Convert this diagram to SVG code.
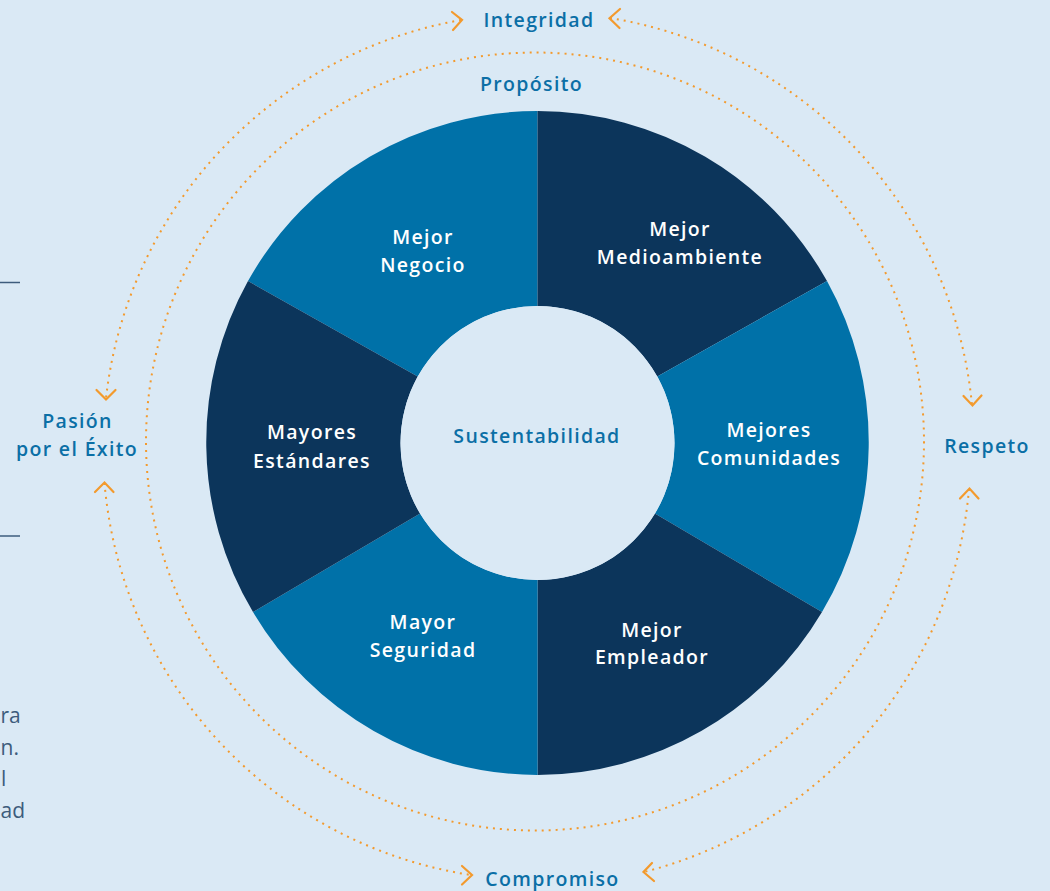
<svg xmlns="http://www.w3.org/2000/svg" width="1050" height="891" viewBox="0 0 1050 891">
  <style>
    .bg { fill: #dae9f5; }
    .mid { fill: #0071a8; }
    .dark { fill: #0c355b; }
    .wl { font-family: "Open Sans", "Liberation Sans", sans-serif; font-weight: 600; font-size: 19.5px; fill: #ffffff; text-anchor: middle; letter-spacing: 1.35px; }
    .ol { font-family: "Open Sans", "Liberation Sans", sans-serif; font-weight: 600; font-size: 19.5px; fill: #0b6fa6; text-anchor: middle; letter-spacing: 1.35px; }
    .frag { font-family: "Open Sans", "Liberation Sans", sans-serif; font-weight: 400; font-size: 21px; fill: #3d5c7c; text-anchor: start; }
    .dots { fill: none; stroke: #f39a2d; stroke-width: 2; stroke-dasharray: 2 5; }
    .chev { fill: none; stroke: #f39a2d; stroke-width: 2.2; stroke-linecap: round; stroke-linejoin: miter; }
    .rule { stroke: #3d5c7c; stroke-width: 1.5; }
  </style>
  <rect class="bg" x="0" y="0" width="1050" height="891"/>

  <!-- clipped fragments from adjacent page -->
  <g id="fragment">
    <line class="rule" x1="0" y1="282.5" x2="20" y2="282.5"/>
    <line class="rule" x1="0" y1="536" x2="20" y2="536"/>
    <text class="frag" x="0.5" y="723">ra</text>
    <text class="frag" x="0.5" y="755">n.</text>
    <text class="frag" x="1" y="786">l</text>
    <text class="frag" x="0.5" y="818">ad</text>
  </g>

  <g id="connectors">
    <circle class="dots" cx="535" cy="441.5" r="389"/>
    <path class="dots" d="M 461 20 A 434 434 0 0 0 106 398"/>
    <path class="dots" d="M 610 18 A 434 434 0 0 1 972 405"/>
    <path class="dots" d="M 104.5 483 A 434 434 0 0 0 471 875"/>
    <path class="dots" d="M 969 489 A 434 434 0 0 1 644 872"/>
    <polyline class="chev" points="452,12 462,20 453,30"/>
    <polyline class="chev" points="620,9 609.5,18.3 619.5,28"/>
    <polyline class="chev" points="96.5,390 106,399.5 115.5,390"/>
    <polyline class="chev" points="95,492 104.5,482.5 113.5,492"/>
    <polyline class="chev" points="963.5,396 972.5,405.5 981.5,395.5"/>
    <polyline class="chev" points="960,498.5 969.5,488.5 978.5,498.5"/>
    <polyline class="chev" points="462,866 472,875 462,884.5"/>
    <polyline class="chev" points="652,863 643.5,872 654,881"/>
  </g>

  <g id="seg-negocio">
    <path class="mid" d="M 248 281 A 332 332 0 0 1 537.5 111 L 537.5 306 A 137 137 0 0 0 417.7 376.6 Z"/>
    <text class="wl" x="423" y="244">Mejor</text>
    <text class="wl" x="423" y="272">Negocio</text>
  </g>
  <g id="seg-medioambiente">
    <path class="dark" d="M 537.5 111 A 332 332 0 0 1 827 281 L 657.3 376.6 A 137 137 0 0 0 537.5 306 Z"/>
    <text class="wl" x="680" y="236">Mejor</text>
    <text class="wl" x="680" y="264">Medioambiente</text>
  </g>
  <g id="seg-comunidades">
    <path class="mid" d="M 827 281 A 332 332 0 0 1 822 612 L 654.9 513.6 A 137 137 0 0 0 657.3 376.6 Z"/>
    <text class="wl" x="769" y="437">Mejores</text>
    <text class="wl" x="769" y="465">Comunidades</text>
  </g>
  <g id="seg-empleador">
    <path class="dark" d="M 822 612 A 332 332 0 0 1 537.5 775 L 537.5 580 A 137 137 0 0 0 654.9 513.6 Z"/>
    <text class="wl" x="652" y="636.5">Mejor</text>
    <text class="wl" x="652" y="664">Empleador</text>
  </g>
  <g id="seg-seguridad">
    <path class="mid" d="M 537.5 775 A 332 332 0 0 1 253 612 L 420.1 513.6 A 137 137 0 0 0 537.5 580 Z"/>
    <text class="wl" x="423" y="629">Mayor</text>
    <text class="wl" x="423" y="657">Seguridad</text>
  </g>
  <g id="seg-estandares">
    <path class="dark" d="M 253 612 A 332 332 0 0 1 248 281 L 417.7 376.6 A 137 137 0 0 0 420.1 513.6 Z"/>
    <text class="wl" x="312" y="439">Mayores</text>
    <text class="wl" x="312" y="468">Estándares</text>
  </g>
  <g id="center">
    <circle class="bg" cx="537.5" cy="443" r="137"/>
    <text class="ol" x="537" y="443">Sustentabilidad</text>
  </g>

  <g id="lbl-proposito"><text class="ol" x="531.5" y="91">Propósito</text></g>
  <g id="lbl-integridad"><text class="ol" x="539" y="27">Integridad</text></g>
  <g id="lbl-pasion">
    <text class="ol" x="77.5" y="428">Pasión</text>
    <text class="ol" x="77" y="456">por el Éxito</text>
  </g>
  <g id="lbl-respeto"><text class="ol" x="987" y="453">Respeto</text></g>
  <g id="lbl-compromiso"><text class="ol" x="552.5" y="886">Compromiso</text></g>
</svg>
